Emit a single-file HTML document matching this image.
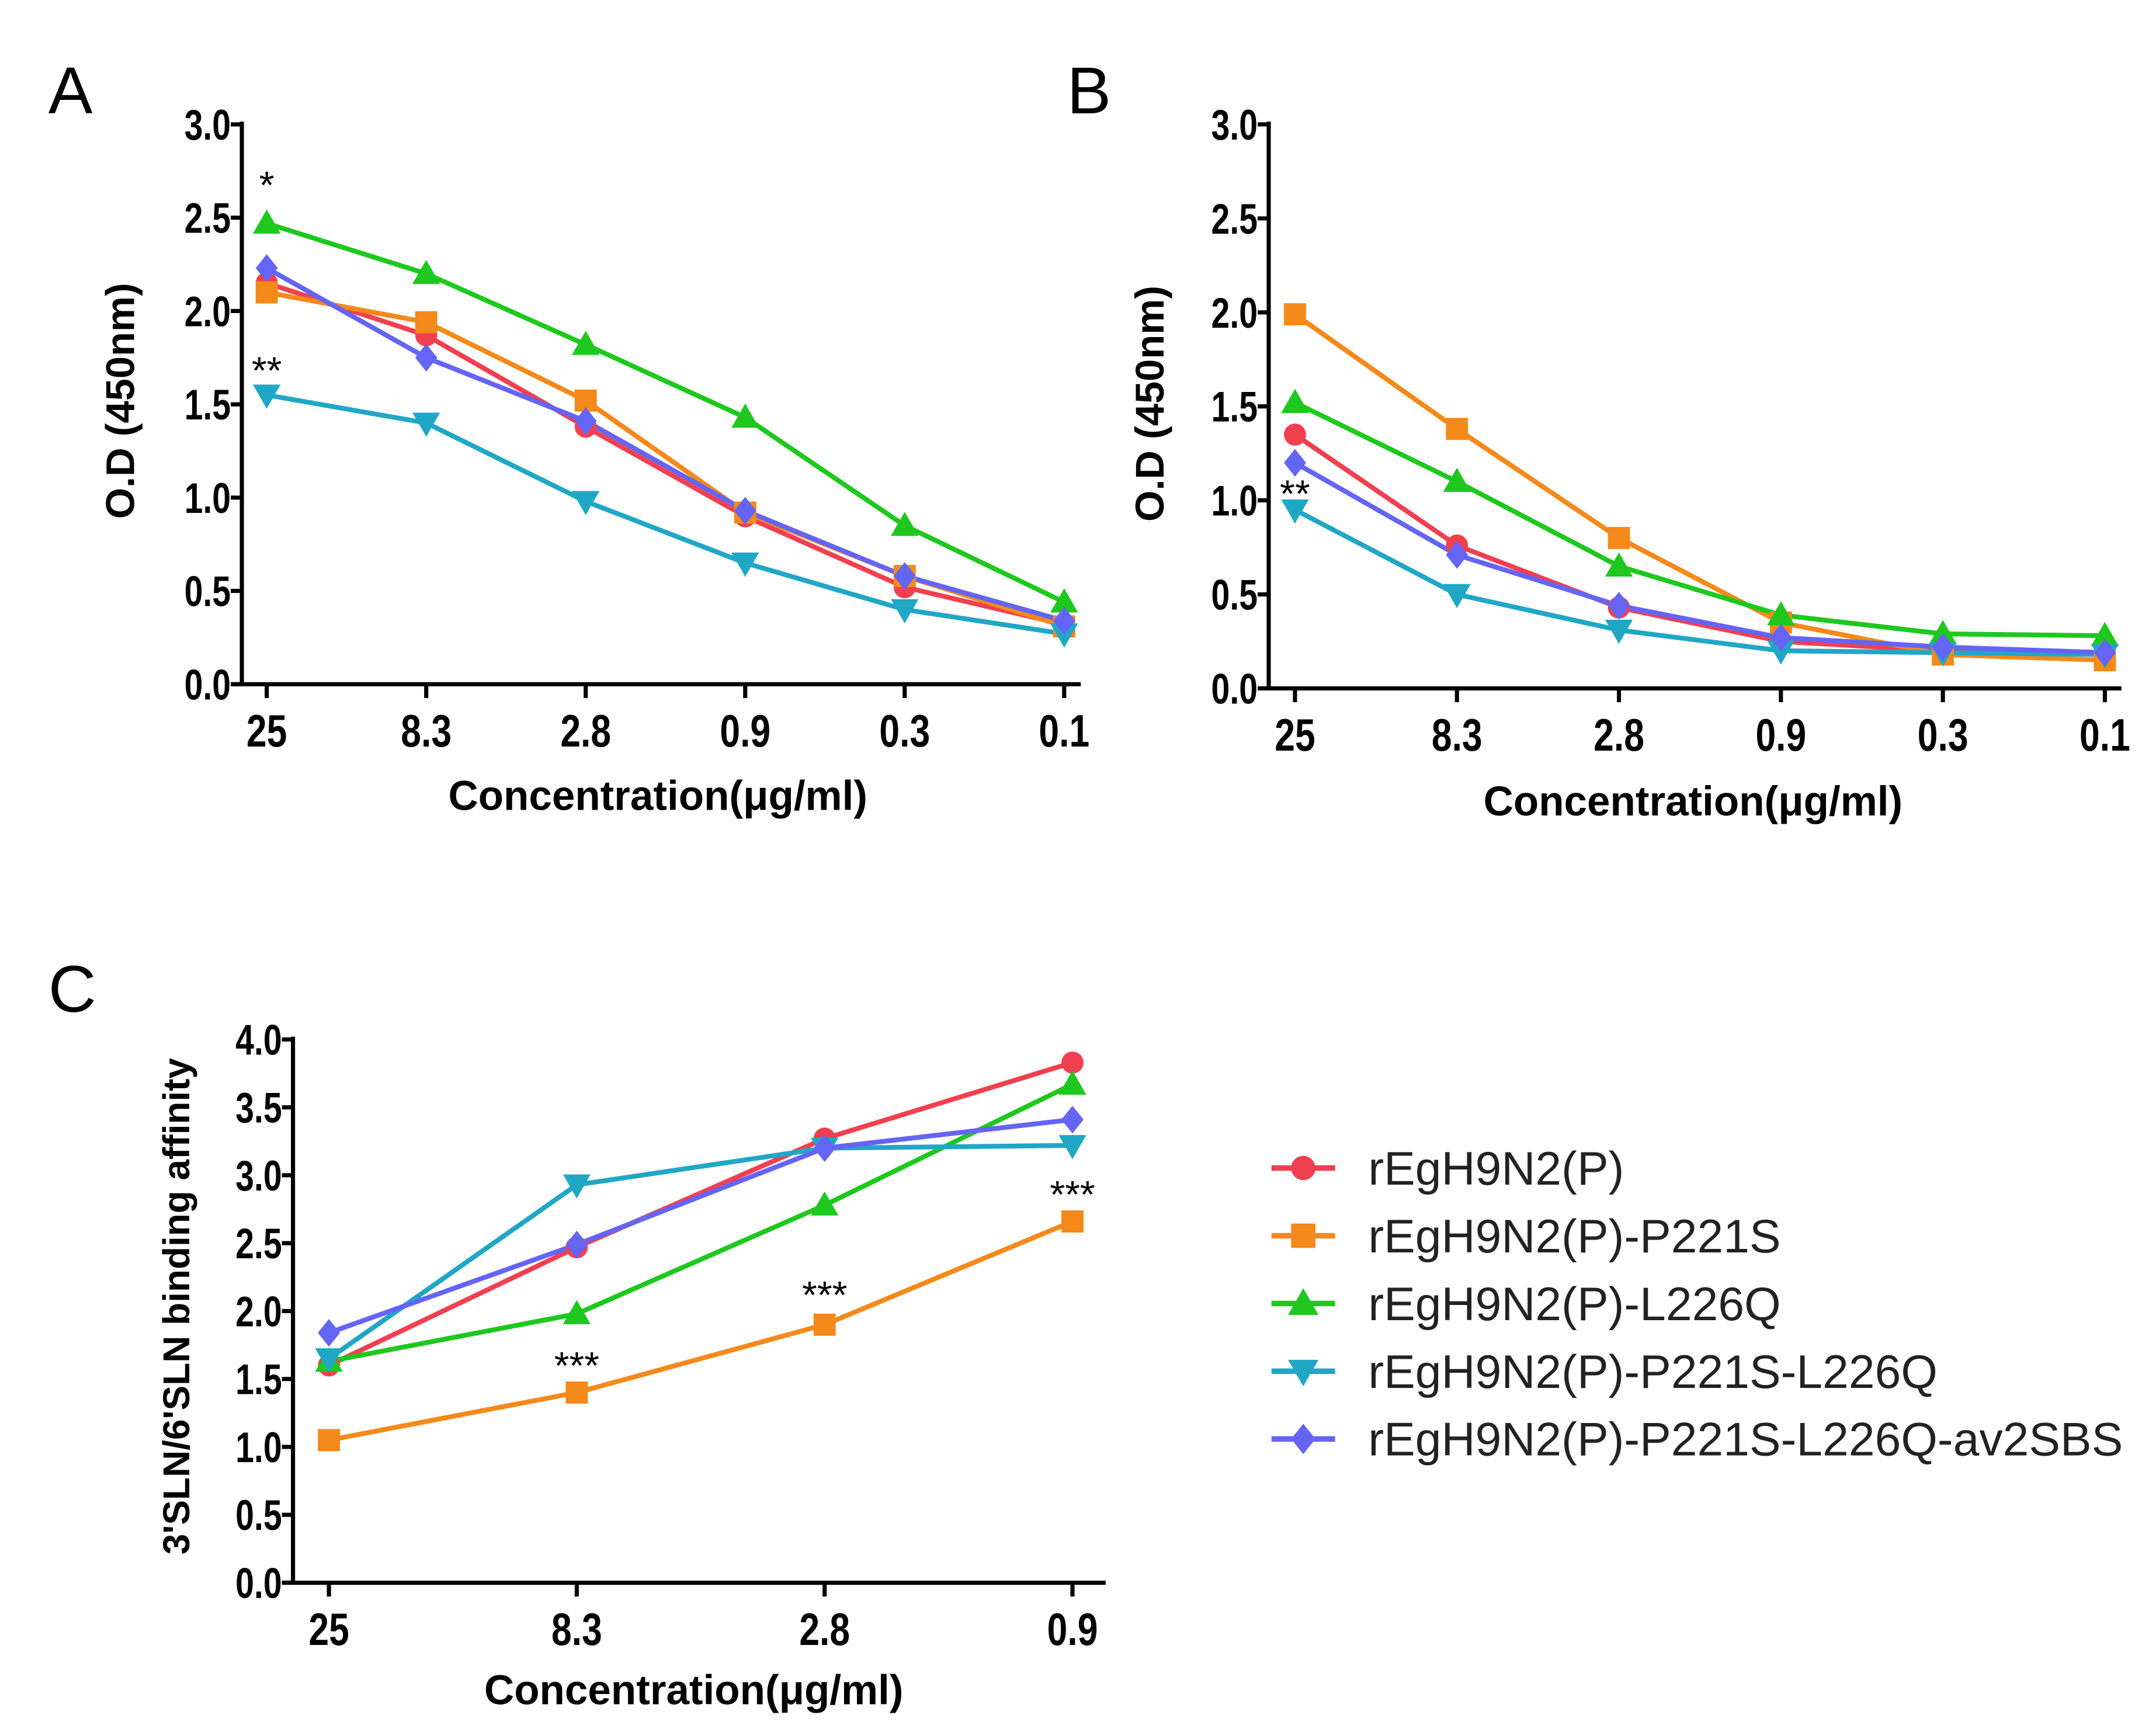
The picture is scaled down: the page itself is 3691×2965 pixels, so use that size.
<!DOCTYPE html>
<html><head><meta charset="utf-8"><style>
html,body{margin:0;padding:0;background:#fff}
svg{display:block}
text{font-family:"Liberation Sans",sans-serif}
</style></head><body>
<svg id="fig" width="3691" height="2965" viewBox="0 0 1560 1253" preserveAspectRatio="none" xmlns="http://www.w3.org/2000/svg"></svg>
<script>
const colors=["#f04050","#f5891a","#1ec81e","#21a7c6","#6464f5"];
const seriesNames=["rEgH9N2(P)","rEgH9N2(P)-P221S","rEgH9N2(P)-L226Q","rEgH9N2(P)-P221S-L226Q","rEgH9N2(P)-P221S-L226Q-av2SBS"];
const markers=["circle","square","triUp","triDown","diamond"];
const catsAB=["25","8.3","2.8","0.9","0.3","0.1"];
const catsC=["25","8.3","2.8","0.9"];
const ticksAB=["0.0","0.5","1.0","1.5","2.0","2.5","3.0"];
const ticksC=["0.0","0.5","1.0","1.5","2.0","2.5","3.0","3.5","4.0"];
const aRed=[2.15,1.87,1.38,0.9,0.52,0.32];
const aOrange=[2.1,1.94,1.52,0.92,0.58,0.31];
const aGreen=[2.47,2.2,1.82,1.43,0.85,0.44];
const aCyan=[1.55,1.4,0.98,0.65,0.4,0.27];
const aPurple=[2.23,1.75,1.41,0.93,0.58,0.34];
const bRed=[1.35,0.76,0.43,0.25,0.2,0.18];
const bOrange=[1.99,1.38,0.8,0.35,0.18,0.15];
const bGreen=[1.52,1.1,0.65,0.39,0.29,0.28];
const bCyan=[0.95,0.5,0.31,0.2,0.19,0.18];
const bPurple=[1.2,0.71,0.44,0.27,0.22,0.19];
const cRed=[1.6,2.47,3.27,3.83];
const cOrange=[1.05,1.4,1.9,2.66];
const cGreen=[1.63,1.98,2.78,3.67];
const cCyan=[1.65,2.93,3.2,3.22];
const cPurple=[1.84,2.49,3.2,3.41];
const sigA=[{i:0,v:2.47,t:"*",dy:-18},{i:0,v:1.55,t:"**",dy:-8}];
const sigB=[{i:0,v:0.95,t:"**",dy:-2}];
const sigC=[{i:1,v:1.4,t:"***",dy:-10},{i:2,v:1.9,t:"***",dy:-12},{i:3,v:2.66,t:"***",dy:-10}];

const NS="http://www.w3.org/2000/svg";
const svg=document.getElementById('fig');
function el(tag,attrs,parent){const e=document.createElementNS(NS,tag);for(const k in attrs)e.setAttribute(k,attrs[k]);(parent||svg).appendChild(e);return e;}
function marker(g,type,x,y,c,s){
  let e;
  if(type==="circle")e=el('circle',{cx:x,cy:y,r:s*0.8,fill:c},g);
  else if(type==="square")e=el('rect',{x:x-s*0.8,y:y-s*0.8,width:s*1.6,height:s*1.6,fill:c},g);
  else if(type==="triUp")e=el('polygon',{points:`${x},${y-s} ${x-s},${y+s*0.75} ${x+s},${y+s*0.75}`,fill:c},g);
  else if(type==="triDown")e=el('polygon',{points:`${x},${y+s} ${x-s},${y-s*0.75} ${x+s},${y-s*0.75}`,fill:c},g);
  else e=el('polygon',{points:`${x},${y-s} ${x+s*0.8},${y} ${x},${y+s} ${x-s*0.8},${y}`,fill:c},g);
  
  
}
function panel(p){
  const g=el('g',{});
  
  
  const yMax=p.ticks.length-1; const step=0.5;
  const ys=v=>p.y0-(v/(yMax*step))*(p.y0-p.yTop);
  const xs=i=>p.xs0+i*(p.xs1-p.xs0)/(p.cats.length-1);
  const lbl=el('text',{x:p.lx,y:p.ly,'font-size':48,fill:'#000'},g);lbl.textContent=p.id;
  
  const ya=el('line',{x1:p.ax,y1:p.yTop-2,x2:p.ax,y2:p.y0,stroke:'#000','stroke-width':3},g);
  
  const xa=el('line',{x1:p.ax-8,y1:p.y0,x2:p.xEnd,y2:p.y0,stroke:'#000','stroke-width':3},g);
  
  p.ticks.forEach((t,k)=>{const y=ys(k*step);
    el('line',{x1:p.ax-8,y1:y,x2:p.ax,y2:y,stroke:'#000','stroke-width':3},g);
    const tx=el('text',{x:p.ax-8,y:y+11,'font-size':31,'font-weight':'bold','text-anchor':'end',transform:`translate(${p.ax-8},0) scale(0.78,1) translate(${-(p.ax-8)},0)`},g);tx.textContent=t;
    });
  p.cats.forEach((c,i)=>{const x=xs(i);
    el('line',{x1:x,y1:p.y0,x2:x,y2:p.y0+10,stroke:'#000','stroke-width':3},g);
    const tx=el('text',{x:x,y:p.y0+45,'font-size':33,'font-weight':'bold','text-anchor':'middle',transform:`translate(${x},0) scale(0.8,1) translate(${-x},0)`},g);tx.textContent=c;
    });
  const xt=el('text',{x:p.xtX,y:p.xtY,'font-size':30,'font-weight':'bold','text-anchor':'middle'},g);xt.textContent="Concentration(μg/ml)";
  
  const yt=el('text',{x:0,y:0,'font-size':p.ytSize,'font-weight':'bold','text-anchor':'middle',transform:`translate(${p.ytX},${p.ytY}) rotate(-90)`},g);yt.textContent=p.ytitle;
  
  p.series.forEach((vals,s)=>{
    const pts=vals.map((v,i)=>xs(i)+','+ys(v)).join(' ');
    const pl=el('polyline',{points:pts,fill:'none',stroke:colors[s],'stroke-width':3.5},g);
    
  });
  p.series.forEach((vals,s)=>vals.forEach((v,i)=>marker(g,markers[s],xs(i),ys(v),colors[s],10)));
  p.sig.forEach(a=>{const t=el('text',{x:xs(a.i),y:ys(a.v)+a.dy,'font-size':28,'text-anchor':'middle'},g);t.textContent=a.t;
    });
}
panel({id:"A",lx:35,ly:82,ax:175,yTop:90,y0:495,xs0:193,xs1:770,xEnd:782,cats:catsAB,ticks:ticksAB,
  series:[aRed,aOrange,aGreen,aCyan,aPurple],sig:sigA,xtX:476,xtY:586,ytX:97,ytY:290,ytSize:29,ytitle:"O.D (450nm)"});
panel({id:"B",lx:772,ly:82,ax:918,yTop:90,y0:498,xs0:937,xs1:1523,xEnd:1535,cats:catsAB,ticks:ticksAB,
  series:[bRed,bOrange,bGreen,bCyan,bPurple],sig:sigB,xtX:1225,xtY:590,ytX:842,ytY:292,ytSize:29,ytitle:"O.D (450nm)"});
panel({id:"C",lx:35,ly:732,ax:212,yTop:752,y0:1145,xs0:238,xs1:776,xEnd:800,cats:catsC,ticks:ticksC,
  series:[cRed,cOrange,cGreen,cCyan,cPurple],sig:sigC,xtX:502,xtY:1233,ytX:137,ytY:945,ytSize:27,ytitle:"3'SLN/6'SLN binding affinity"});
const lg=el('g',{});


seriesNames.forEach((n,s)=>{const y=845+s*49;
  const item=el('g',{},lg);
  
  
  el('line',{x1:920,y1:y,x2:966,y2:y,stroke:colors[s],'stroke-width':4},item);
  marker(item,markers[s],943,y,colors[s],11);
  const t=el('text',{x:990,y:y+12,'font-size':34,fill:'#222'},item);t.textContent=n;
});
</script>
</body></html>
